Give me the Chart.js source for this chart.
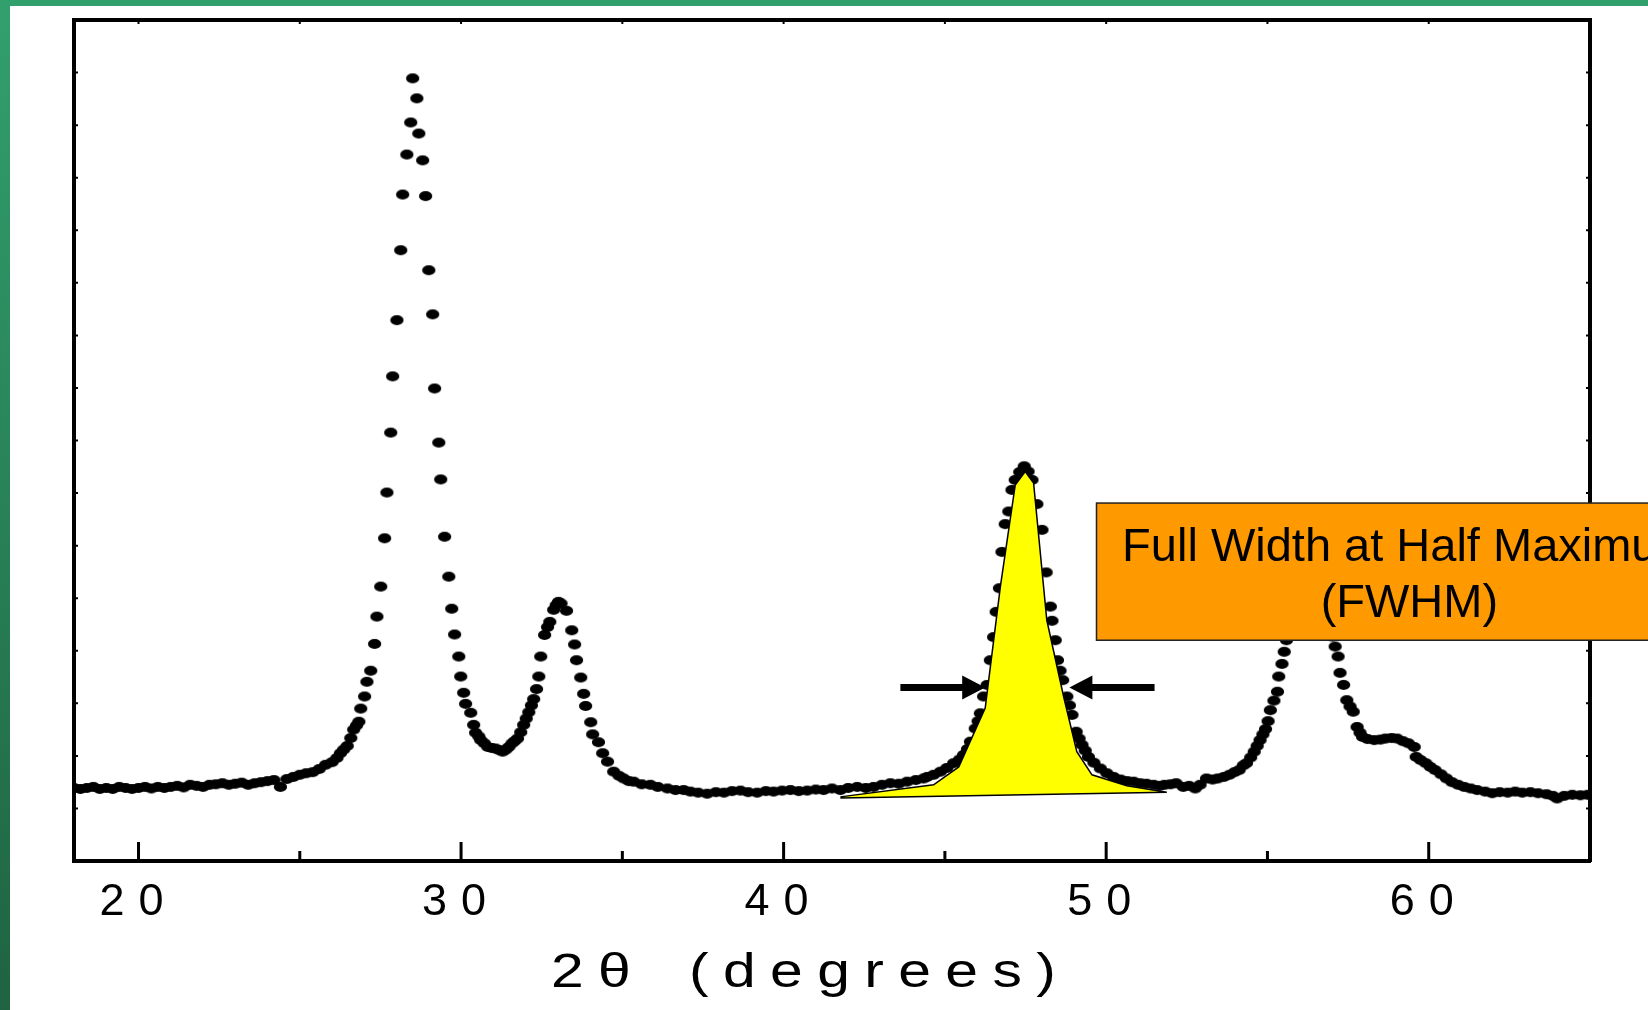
<!DOCTYPE html>
<html>
<head>
<meta charset="utf-8">
<script src="https://cdn.jsdelivr.net/npm/chart.js@4.4.1/dist/chart.umd.min.js"></script>
<style>
  html, body { margin: 0; padding: 0; }
  body {
    width: 1648px; height: 1010px; overflow: hidden; position: relative;
    background: linear-gradient(to bottom, #32a06d, #1f6342);
  }
  #panel { position: absolute; left: 10px; top: 6px; width: 1638px; height: 1004px; background: #fff; }
</style>
</head>
<body>
<div id="panel"><canvas id="xrd"></canvas></div>
<script>
// XRD scan: diffraction angle 2θ (degrees) and intensity (counts)
const twoTheta = [
  18.0, 18.2, 18.4, 18.6, 18.8, 19.0, 19.2, 19.4, 19.6, 19.8,
  20.0, 20.2, 20.4, 20.6, 20.8, 21.0, 21.2, 21.4, 21.6, 21.8,
  22.0, 22.2, 22.4, 22.6, 22.8, 23.0, 23.2, 23.4, 23.6, 23.8,
  24.0, 24.2, 24.4, 24.6, 24.8, 25.0, 25.2, 25.4, 25.6, 25.8,
  26.0, 26.15, 26.26, 26.36, 26.47, 26.58, 26.67, 26.76,
  26.83, 26.89, 27.01, 27.08, 27.20, 27.32, 27.39, 27.51, 27.63, 27.70,
  27.82, 27.88, 28.01, 28.13, 28.19, 28.32, 28.44, 28.50, 28.63, 28.69,
  28.81, 28.90, 29.00, 29.12, 29.18, 29.31, 29.37, 29.49, 29.62, 29.71,
  29.80, 29.93, 29.99, 30.08, 30.14, 30.30, 30.39, 30.45, 30.55, 30.61,
  30.72, 30.83, 30.95, 31.07, 31.18, 31.29, 31.39, 31.48, 31.58, 31.66,
  31.75, 31.85, 31.94, 32.02, 32.10, 32.18, 32.25, 32.34, 32.41, 32.47,
  32.59, 32.68, 32.75, 32.87, 32.95, 33.02, 33.10, 33.27, 33.43, 33.52,
  33.58, 33.71, 33.80, 33.86, 34.02, 34.08, 34.26, 34.39, 34.54, 34.73,
  34.90, 35.04, 35.20, 35.35, 35.60, 35.87, 36.10, 36.40, 36.65, 36.90,
  37.11, 37.35, 37.63, 37.90, 38.15, 38.40, 38.66, 38.90, 39.18, 39.45,
  39.69, 39.95, 40.21, 40.47, 40.73, 41.00, 41.24, 41.50, 41.76, 42.00,
  42.28, 42.55, 42.79, 43.05, 43.31, 43.57, 43.83, 44.10, 44.34,
  44.45, 44.65, 44.86, 45.06, 45.27, 45.45, 45.58, 45.70, 45.79, 45.94,
  46.03, 46.10, 46.20, 46.31, 46.41, 46.51, 46.59, 46.69, 46.77, 46.87,
  46.98, 47.08, 47.18, 47.32, 47.46, 47.58, 47.70, 47.85, 48.01, 48.14,
  48.27, 48.32, 48.42, 48.49, 48.57, 48.65, 48.78, 48.86, 48.94, 49.07,
  49.16, 49.25, 49.35, 49.45, 49.62, 49.82, 50.02, 50.23, 50.45, 50.65,
  50.85, 51.05, 51.25, 51.47, 51.66, 51.81, 52.00, 52.17, 52.39, 52.57,
  52.76, 52.91, 53.11, 53.30, 53.46, 53.65, 53.82, 53.98, 54.12, 54.25,
  54.35, 54.48, 54.59, 54.68, 54.77, 54.86, 54.94, 55.02, 55.09, 55.20,
  55.31, 55.35, 55.45, 55.52, 55.59, 55.72, 55.88, 56.05, 56.22, 56.38,
  56.55, 56.70, 56.85, 56.95, 57.01, 57.10, 57.19, 57.25, 57.36, 57.46,
  57.56, 57.66, 57.78, 57.87, 57.95, 58.10, 58.31, 58.50, 58.66, 58.85,
  59.02, 59.20, 59.37, 59.55, 59.61, 59.75, 59.91, 60.05, 60.20, 60.38,
  60.55, 60.72, 60.91, 61.10, 61.30, 61.50, 61.75, 61.97, 62.20, 62.45,
  62.68, 62.90, 63.15, 63.39, 63.65, 63.85, 63.98, 64.20, 64.45, 64.70,
  64.93
];
const intensity = [
  139, 137, 139, 141, 137, 139, 137, 141, 139, 137,
  139, 141, 138, 141, 139, 141, 143, 140, 145, 143,
  141, 145, 146, 148, 145, 147, 149, 145, 148, 150,
  152, 154, 141, 156, 160, 164, 167, 169, 175, 183,
  188, 196, 205, 212, 219, 234, 250, 258,
  265, 290, 313, 341, 362, 413, 465, 522, 614, 701,
  815, 922, 1029, 1162, 1268, 1344, 1405, 1489, 1451, 1384,
  1333, 1265, 1124, 1040, 899, 796, 726, 617, 541, 480,
  431, 389, 351, 320, 299, 282, 259, 244, 237, 230,
  224, 217, 215, 214, 211, 208, 212, 217, 224, 228,
  233, 245, 259, 271, 283, 296, 308, 327, 351, 389,
  430, 445, 455, 478, 487, 493, 490, 476, 439, 412,
  382, 349, 318, 295, 264, 241, 226, 205, 189, 170,
  162, 157, 152, 151, 146, 145, 141, 138, 135, 135,
  132, 130, 128, 131, 130, 133, 134, 131, 130, 133,
  132, 134, 135, 133, 134, 136, 135, 138, 135, 139,
  141, 139, 141, 145, 148, 147, 151, 154, 157,
  160, 164, 170, 177, 186, 193, 202, 213, 227, 252,
  266, 281, 313, 335, 382, 426, 474, 519, 588, 641,
  665, 706, 725, 740, 751, 741, 725, 679, 630, 549,
  484, 457, 420, 382, 362, 344, 313, 296, 278, 246,
  233, 221, 210, 198, 187, 176, 167, 160, 155, 152,
  151, 148, 147, 145, 143, 145, 146, 148, 141, 143,
  138, 145, 157, 155, 157, 160, 164, 169, 173, 182,
  186, 197, 208, 219, 230, 241, 251, 266, 287, 305,
  322, 351, 375, 398, 420, 465, 515, 555, 580, 588,
  572, 540, 495, 455, 427, 408, 389, 358, 335, 306,
  294, 284, 255, 244, 236, 232, 230, 231, 233, 234,
  233, 228, 224, 217, 198, 192, 186, 179, 173, 165,
  157, 150, 145, 141, 138, 135, 132, 129, 131, 130,
  132, 130, 131, 129, 127, 124, 119, 124, 126, 125,
  126
];

// outline of the shaded peak used to show the FWHM
const fwhmShapeX = [41.76, 44.65, 45.43, 46.25, 46.72, 47.18, 47.49, 47.75, 48.16, 48.68, 49.09, 49.56, 50.64, 51.88, 41.76];
const fwhmShapeY = [122, 145, 179, 291, 522, 715, 741, 719, 458, 313, 208, 164, 143, 131, 120];

// the two arrows marking the half-maximum width
const arrowTail = [43.62, 51.50];
const arrowTip = [46.25, 48.86];
const arrowLevel = 330;

// call-out box
const noteLeft = 49.7, noteTop = 681, noteBottom = 420, noteCenter = 59.4;
const noteLines = ['Full Width at Half Maximum', '(FWHM)'];

const xTickValues = [20, 30, 40, 50, 60];
const xMinorValues = [25, 35, 45, 55];
const xTitle = '2θ\u2002(degrees)';

const FONT = "'Liberation Sans', Arial, Helvetica, sans-serif";

// elliptical marker used for every measured point
const dot = document.createElement('canvas');
dot.width = 15;
dot.height = 12;
const dctx = dot.getContext('2d');
dctx.fillStyle = '#000';
dctx.beginPath();
dctx.ellipse(7.5, 6, 6.6, 5, 0, 0, Math.PI * 2);
dctx.fill();

const points = twoTheta.map((t, i) => ({ x: t, y: intensity[i] }));
const shape = fwhmShapeX.map((t, i) => ({ x: t, y: fwhmShapeY[i] }));

// wide letter spacing on the axis numbers
const spacing = {
  id: 'spacing',
  beforeDraw(chart) { chart.ctx.letterSpacing = '14px'; }
};

function drawArrow(ctx, x0, x1, yy) {
  const dir = Math.sign(x1 - x0);
  const head = 23, half = 12;
  ctx.lineWidth = 7;
  ctx.beginPath();
  ctx.moveTo(x0, yy);
  ctx.lineTo(x1 - dir * (head - 1), yy);
  ctx.stroke();
  ctx.beginPath();
  ctx.moveTo(x1, yy);
  ctx.lineTo(x1 - dir * head, yy - half);
  ctx.lineTo(x1 - dir * head, yy + half);
  ctx.closePath();
  ctx.fill();
}

const decorations = {
  id: 'decorations',
  afterDraw(chart) {
    const { ctx, chartArea: a, scales: { x, y } } = chart;
    ctx.save();
    ctx.letterSpacing = '0px';
    ctx.strokeStyle = '#000';
    ctx.fillStyle = '#000';

    // inward tick marks round the frame
    ctx.lineWidth = 3;
    ctx.beginPath();
    xTickValues.forEach(v => {
      const px = x.getPixelForValue(v);
      ctx.moveTo(px, a.bottom); ctx.lineTo(px, a.bottom - 19);
    });
    xMinorValues.forEach(v => {
      const px = x.getPixelForValue(v);
      ctx.moveTo(px, a.bottom); ctx.lineTo(px, a.bottom - 10);
    });
    ctx.stroke();
    ctx.lineWidth = 2;
    ctx.beginPath();
    xTickValues.concat(xMinorValues).forEach(v => {
      const px = x.getPixelForValue(v);
      ctx.moveTo(px, a.top); ctx.lineTo(px, a.top + 4);
    });
    for (let v = 100; v < 1600; v += 100) {
      const py = y.getPixelForValue(v);
      ctx.moveTo(a.left, py); ctx.lineTo(a.left + 4, py);
      ctx.moveTo(a.right, py); ctx.lineTo(a.right - 4, py);
    }
    ctx.stroke();

    // axis title, drawn a little wide
    ctx.save();
    ctx.translate(a.left + 477, a.bottom + 126);
    ctx.scale(1.2, 1);
    ctx.font = `49px ${FONT}`;
    ctx.letterSpacing = '12px';
    ctx.textAlign = 'left';
    ctx.textBaseline = 'alphabetic';
    ctx.fillText(xTitle, 0, 0);
    ctx.restore();

    // arrows
    const ay = y.getPixelForValue(arrowLevel);
    arrowTail.forEach((t, i) => {
      drawArrow(ctx, x.getPixelForValue(t), x.getPixelForValue(arrowTip[i]), ay);
    });

    // call-out box
    const bx = x.getPixelForValue(noteLeft);
    const by1 = y.getPixelForValue(noteTop);
    const by2 = y.getPixelForValue(noteBottom);
    ctx.fillStyle = '#ff9900';
    ctx.fillRect(bx, by1, chart.width - bx + 4, by2 - by1);
    ctx.strokeStyle = '#222';
    ctx.lineWidth = 1.5;
    ctx.strokeRect(bx, by1, chart.width - bx + 4, by2 - by1);
    ctx.fillStyle = '#000';
    ctx.font = `47px ${FONT}`;
    ctx.textAlign = 'center';
    const cx = x.getPixelForValue(noteCenter);
    ctx.fillText(noteLines[0], cx, by1 + 58);
    ctx.fillText(noteLines[1], cx, by1 + 114);
    ctx.restore();
  }
};

const frame = { display: true, width: 4, color: '#000' };

new Chart(document.getElementById('xrd'), {
  type: 'scatter',
  data: {
    datasets: [
      {
        type: 'line',
        data: shape,
        order: 0,
        fill: 'shape',
        backgroundColor: '#ffff00',
        borderColor: '#000',
        borderWidth: 1.5,
        pointRadius: 0,
        tension: 0,
        clip: 0
      },
      {
        data: points,
        order: 1,
        pointStyle: dot,
        pointRadius: 5,
        clip: 0
      }
    ]
  },
  options: {
    responsive: true,
    maintainAspectRatio: false,
    animation: false,
    events: [],
    layout: { padding: 0 },
    plugins: { legend: { display: false }, tooltip: { enabled: false } },
    scales: {
      x: {
        type: 'linear', position: 'bottom', min: 18, max: 65,
        afterBuildTicks: s => { s.ticks = xTickValues.map(v => ({ value: v })); },
        afterFit: s => { s.height = 149; },
        grid: { display: false, drawTicks: false },
        border: frame,
        ticks: { color: '#000', padding: 15, font: { family: FONT, size: 45 }, autoSkip: false, maxRotation: 0 }
      },
      x2: {
        type: 'linear', position: 'top', min: 18, max: 65,
        afterFit: s => { s.height = 14; },
        grid: { display: false, drawTicks: false },
        border: frame,
        ticks: { display: false }
      },
      y: {
        type: 'linear', position: 'left', min: 0, max: 1600,
        afterFit: s => { s.width = 64; },
        grid: { display: false, drawTicks: false },
        border: frame,
        ticks: { display: false }
      },
      y2: {
        type: 'linear', position: 'right', min: 0, max: 1600,
        afterFit: s => { s.width = 58; },
        grid: { display: false, drawTicks: false },
        border: frame,
        ticks: { display: false }
      }
    }
  },
  plugins: [spacing, decorations]
});
</script>
</body>
</html>
